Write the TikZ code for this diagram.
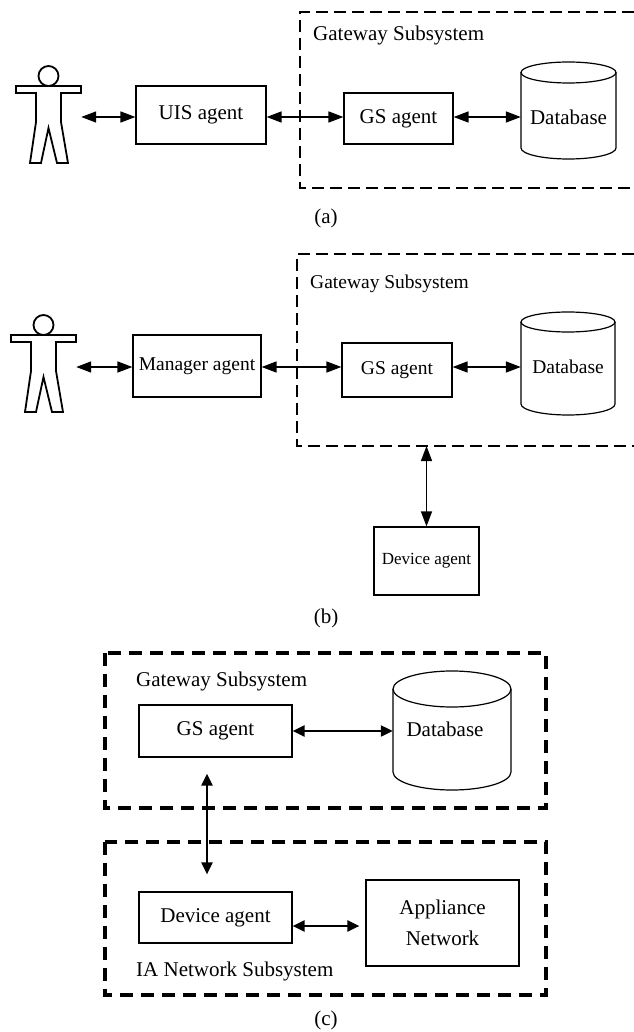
\documentclass[tikz,border=0pt]{standalone}
\usepackage{fontspec}
\setmainfont{Liberation Serif}
\usetikzlibrary{arrows.meta}
\begin{document}
\begin{tikzpicture}[x=1pt,y=-1pt,
  box/.style={draw, line width=1.2pt, inner sep=0pt, align=center},
  ghost/.style={inner sep=0pt, align=center},
  fa/.style={font=\fontsize{21}{25}\selectfont},
  fb/.style={font=\fontsize{19.5}{23}\selectfont},
  fd/.style={font=\fontsize{17}{20}\selectfont},
  fc/.style={font=\fontsize{21}{31}\selectfont},
  biarrow/.style={{Triangle[length=15pt,width=11pt]}-{Triangle[length=15pt,width=11pt]}, line width=1.6pt},
  biarrowc/.style={{Triangle[length=12pt,width=11pt]}-{Triangle[length=12pt,width=11pt]}, line width=2.2pt},
  gwa/.style={line width=2.8pt, dash pattern=on 12pt off 6pt},
  gwb/.style={line width=2.4pt, dash pattern=on 12pt off 6pt},
  gwc/.style={line width=3.5pt, dash pattern=on 13pt off 8pt},
  cyl/.style={line width=1.2pt},
  figline/.style={line width=1.8pt, line join=miter},
  stickman/.pic={
    \draw[figline] (16,86) -- (81,86) -- (81,93) -- (61,93) -- (61,122) -- (68,163)
      -- (57,163) -- (48.5,128) -- (41,163) -- (30,163) -- (36,122) -- (36,93)
      -- (16,93) -- cycle;
    \draw[figline, fill=white] (48.5,76) circle[radius=10pt];
  }
]
\useasboundingbox (0,0) rectangle (633,1032);

% ---------------- (a) ----------------
\coordinate (rowa) at (0,117);
\pic at (0,0) {stickman};
\node[ghost, minimum width=65pt, minimum height=10pt] (pa) at (48.5,117) {};
\draw[gwa] (634,12) -- (300,12) -- (300,188) -- (634,188);
\node[fa, anchor=base west, inner sep=0pt] (gwla) at (313,41) {Gateway Subsystem};
\node[box, fa, minimum width=130pt, minimum height=58pt] (uis) at (201,115) {UIS agent};
\node[box, fa, minimum width=109pt, minimum height=51pt] (gsa) at (398.5,118.5) {GS agent};
\draw[cyl] (568.5,72.5) ellipse[x radius=47.5pt, y radius=10.5pt];
\draw[cyl] (521,72.5) -- (521,148) arc[start angle=180, end angle=360, x radius=47.5pt, y radius=11pt] -- (616,72.5);
\node[ghost, fa, minimum width=95pt] (dba) at (568.5,117) {Database};
\draw[biarrow] (pa.east |- rowa) -- (uis.west |- rowa);
\draw[biarrow] (uis.east |- rowa) -- (gsa.west |- rowa);
\draw[biarrow] (gsa.east |- rowa) -- (dba.west |- rowa);
\node[fa, inner sep=0pt] (capa) at (326,218) {(a)};

% ---------------- (b) ----------------
\coordinate (rowb) at (0,367);
\pic at (-5,249) {stickman};
\node[ghost, minimum width=65pt, minimum height=10pt] (pb) at (43.5,367) {};
\draw[gwb] (634,254) -- (297,254) -- (297,446) -- (634,446);
\coordinate (gwbot) at (426.5,446);
\node[fb, anchor=base west, inner sep=0pt] (gwlb) at (310,288) {Gateway Subsystem};
\node[box, fb, minimum width=128pt, minimum height=62pt] (man) at (197,366) {Manager agent};
\node[box, fb, minimum width=110pt, minimum height=54pt] (gsb) at (397,370) {GS agent};
\draw[cyl] (568,322) ellipse[x radius=47pt, y radius=10pt];
\draw[cyl] (521,322) -- (521,404) arc[start angle=180, end angle=360, x radius=47pt, y radius=11pt] -- (615,322);
\node[ghost, fb, minimum width=94pt] (dbb) at (568,367) {Database};
\draw[biarrow] (pb.east |- rowb) -- (man.west |- rowb);
\draw[biarrow] (man.east |- rowb) -- (gsb.west |- rowb);
\draw[biarrow] (gsb.east |- rowb) -- (dbb.west |- rowb);
\node[box, fd, minimum width=105pt, minimum height=68pt] (devb) at (426.5,561) {Device agent};
\draw[biarrow, line width=1.3pt] (gwbot) -- (devb.north);
\node[fa, inner sep=0pt] (capb) at (326,618) {(b)};

% ---------------- (c) ----------------
\draw[gwc] (105,653) rectangle (546,808);
\node[fa, anchor=base west, inner sep=0pt] (gwlc) at (136,686) {Gateway Subsystem};
\node[box, fa, minimum width=153pt, minimum height=52pt] (gsc) at (215.5,731) {GS agent};
\draw[cyl] (452,689) ellipse[x radius=59pt, y radius=18pt];
\draw[cyl] (393,689) -- (393,772) arc[start angle=180, end angle=360, x radius=59pt, y radius=18pt] -- (511,689);
\node[ghost, minimum width=118pt, minimum height=20pt] (dbc) at (452,730) {};
\node[fa, inner sep=0pt] (dbct) at (445,729) {Database};
\draw[biarrowc] (gsc.east) -- (gsc.east -| dbc.west);
\draw[gwc] (105,842) rectangle (546,995);
\node[box, fa, minimum width=153pt, minimum height=51pt] (devc) at (215.5,917.5) {Device agent};
\node[box, fc, minimum width=153pt, minimum height=86pt] (app) at (442.5,923) {Appliance\\Network};
\draw[biarrowc, shorten <=16pt, shorten >=17pt] ([xshift=-8.5pt]gsc.south) -- ([xshift=-8.5pt]devc.north);
\draw[biarrowc, shorten >=6pt] ([yshift=-8.5pt]devc.east) -- ([yshift=-3pt]app.west);
\node[fa, anchor=base west, inner sep=0pt] (ianet) at (136,976) {IA Network Subsystem};
\node[fa, inner sep=0pt] (capc) at (326,1020) {(c)};
\end{tikzpicture}
\end{document}
